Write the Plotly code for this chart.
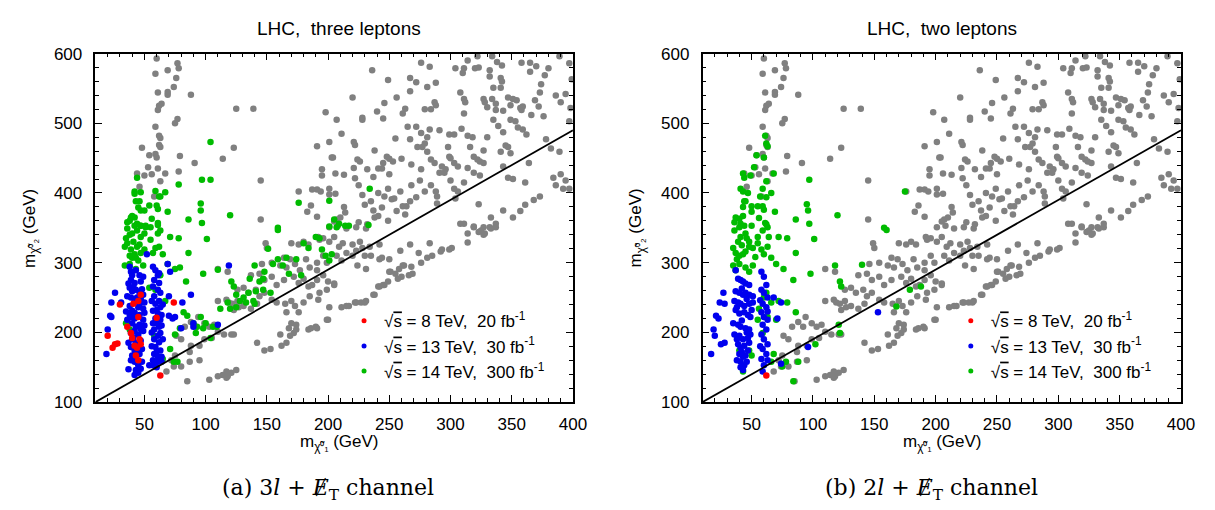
import plotly.graph_objects as go

# all scanned points (grey), shared by both panels: (m_chi1, m_chi2) in GeV
grey_points = [
    (60, 593), (59, 571), (69, 576), (77, 586), (78, 579), (76, 565), (74, 552), (61, 544), (69, 545),
    (69, 541), (64, 528), (62, 525), (61, 519), (88, 541), (77, 506), (75, 500), (59, 495), (62, 482),
    (63, 479), (62, 469), (63, 466), (48, 465), (54, 454), (59, 456), (60, 451), (79, 453), (91, 443),
    (53, 437), (44, 428), (50, 425), (56, 427), (61, 435), (67, 428), (63, 417), (78, 431), (46, 409),
    (58, 395), (125, 521), (139, 521), (114, 449), (123, 465), (145, 418), (145, 362),
    (236, 576), (220, 537), (198, 516), (207, 505), (211, 485), (228, 508), (228, 505), (191, 467),
    (201, 473), (221, 473), (222, 469), (238, 461), (195, 434), (195, 425), (203, 451), (204, 451),
    (206, 428), (213, 426), (224, 448), (226, 445), (221, 436), (222, 421), (232, 434), (237, 423),
    (191, 405), (194, 402), (187, 405), (176, 402), (201, 406), (201, 398), (206, 399), (186, 382),
    (183, 373), (191, 366), (213, 380), (214, 372), (210, 365), (207, 362), (205, 359), (228, 397),
    (230, 383), (235, 388), (237, 375), (238, 365), (225, 411), (241, 400), (225, 358), (232, 355),
    (246, 395), (252, 391), (256, 374), (261, 381), (267, 388), (249, 360), (241, 367), (244, 379),
    (276, 587), (283, 581), (267, 565), (272, 559), (281, 552), (288, 558), (249, 562), (256, 537),
    (246, 529), (240, 517), (245, 507), (267, 546), (263, 521), (261, 514), (279, 520), (284, 520),
    (287, 530), (288, 526), (265, 495), (272, 495), (255, 478), (267, 477), (276, 486), (281, 480),
    (283, 491), (291, 490), (299, 484), (303, 484), (309, 492), (248, 452), (250, 449), (253, 445),
    (260, 449), (245, 443), (241, 435), (244, 435), (250, 427), (249, 406), (254, 392), (259, 402),
    (263, 369), (264, 381), (268, 441), (268, 411), (272, 394), (275, 418), (276, 434), (273, 466),
    (277, 466), (279, 471), (281, 459), (284, 448), (287, 443), (291, 429), (293, 438), (295, 429),
    (296, 434), (298, 466), (299, 452), (300, 450), (303, 443), (306, 438), (279, 402), (284, 411),
    (288, 402), (289, 395), (289, 385), (300, 418), (303, 406), (311, 415), (306, 402), (304, 392),
    (314, 482), (318, 480), (316, 466), (319, 452), (322, 448), (324, 445), (327, 461), (330, 480),
    (327, 443), (324, 425), (319, 429), (314, 436), (320, 579), (323, 580), (311, 579), (310, 572),
    (304, 579), (314, 590), (322, 596), (334, 596), (338, 588), (342, 583), (358, 587), (365, 587),
    (370, 582), (365, 574), (380, 579), (377, 569), (389, 596), (397, 586), (399, 563), (308, 544),
    (311, 535), (312, 530), (311, 514), (332, 576), (332, 567), (341, 565), (342, 560), (335, 551),
    (341, 551), (327, 535), (328, 530), (334, 535), (330, 523), (337, 528), (337, 519), (343, 518),
    (335, 505), (347, 537), (351, 535), (354, 533), (357, 522), (359, 524), (349, 526), (358, 519),
    (369, 533), (372, 524), (366, 512), (376, 510), (373, 544), (374, 556), (386, 540), (390, 530),
    (394, 542), (398, 522), (339, 496), (343, 487), (349, 505), (353, 503), (355, 494), (359, 491),
    (362, 484), (378, 477), (345, 468), (347, 466), (341, 459), (349, 457), (382, 464), (389, 459),
    (364, 443), (347, 422), (351, 420), (361, 415), (384, 422), (390, 427), (394, 418), (386, 411),
    (392, 406), (397, 406), (343, 438), (397, 503),
    (368, 390), (373, 395), (361, 383), (357, 374), (351, 365), (343, 375), (333, 365), (337, 356),
    (327, 351), (319, 352), (311, 356), (308, 356), (323, 384),
    (314, 342), (323, 344), (327, 340), (319, 351), (332, 351), (314, 329), (299, 319), (292, 316),
    (285, 310), (281, 307), (276, 300), (268, 294), (261, 296), (258, 291), (266, 282), (257, 277),
    (250, 287), (245, 268), (241, 266), (237, 254), (231, 245), (227, 243), (222, 243), (217, 238),
    (211, 236), (201, 236), (199, 218), (190, 208), (186, 206),
    (201, 351), (208, 353), (215, 349), (223, 351), (231, 349), (149, 328), (150, 321), (170, 328),
    (176, 326), (180, 330), (184, 326), (192, 337), (193, 333), (196, 335), (201, 330), (205, 337),
    (209, 323), (212, 328), (220, 326), (226, 330), (228, 321), (234, 323), (242, 326), (146, 298),
    (154, 300), (164, 307), (169, 305), (161, 296), (166, 293), (173, 298), (177, 289), (182, 305),
    (185, 293), (191, 300), (196, 310), (199, 300), (207, 310), (211, 303), (215, 314), (220, 310),
    (223, 317), (230, 310), (235, 310), (231, 291), (224, 296), (137, 282), (144, 284), (148, 275),
    (154, 280), (158, 268), (164, 275), (172, 280), (176, 271), (180, 277), (184, 266), (191, 275),
    (196, 282), (200, 273), (205, 270), (110, 291), (118, 287), (126, 261), (131, 264), (135, 257),
    (141, 261), (144, 252), (148, 257), (154, 247), (158, 243), (165, 241), (170, 245), (173, 238),
    (166, 229), (180, 243), (185, 252), (192, 247), (110, 245), (117, 247), (119, 243), (122, 241),
    (126, 245), (131, 238), (137, 234), (142, 241), (123, 232), (127, 236), (187, 268), (193, 257),
    (199, 261), (191, 289),
    (80, 190), (76, 195), (83, 208), (88, 215), (94, 222), (92, 208), (99, 213), (103, 208), (107, 211),
    (110, 201), (115, 197), (121, 197), (123, 197), (105, 192), (99, 190), (95, 181), (88, 181),
    (87, 172), (75, 167), (72, 160), (68, 144), (74, 151), (80, 151), (87, 158), (95, 160), (103, 132),
    (110, 137), (114, 139), (117, 144), (118, 137), (121, 142), (125, 146), (117, 135), (85, 130),
    (142, 185), (148, 174), (153, 176), (162, 181), (166, 185), (169, 195), (172, 199), (174, 204),
    (168, 206), (170, 213), (174, 211), (176, 229), (161, 197), (184, 204), (191, 206), (200, 218),
    (215, 238), (223, 243), (230, 243), (238, 254), (242, 266), (246, 268), (249, 273), (251, 287),
    (255, 284), (262, 296), (260, 280), (269, 284), (205, 268),
    (242, 305), (244, 307), (250, 305), (259, 317), (267, 326), (274, 314), (283, 328), (293, 319),
    (301, 321), (325, 346), (328, 342), (333, 349), (337, 351),
]

# panel (a): three leptons
green_3l = [
    (104, 473), (44, 422), (42, 402), (42, 399), (47, 401), (43, 388), (46, 388), (45, 379), (47, 375),
    (54, 382), (50, 375), (60, 382), (61, 377), (59, 403), (62, 395), (63, 395), (67, 401), (78, 412),
    (97, 419), (104, 419), (96, 385), (96, 375), (86, 362), (97, 357), (69, 373), (56, 363), (61, 357),
    (61, 354), (39, 365), (40, 367), (42, 365), (36, 358), (38, 360), (44, 356), (47, 353), (51, 353),
    (120, 368), (176, 386), (201, 389), (205, 362), (209, 356), (217, 353), (234, 406), (233, 354),
    (159, 350), (201, 352),
    (34, 323), (36, 328), (39, 319), (42, 312), (44, 323), (47, 314), (38, 310), (40, 307), (43, 307),
    (35, 335), (40, 342), (44, 346), (47, 337), (50, 342), (36, 349), (42, 353), (34, 296), (38, 298),
    (43, 291), (49, 296), (50, 319), (55, 333), (57, 314), (59, 321), (61, 342), (63, 346), (62, 323),
    (65, 312), (55, 351), (51, 351), (47, 353), (41, 330), (46, 326), (38, 340), (45, 303),
    (71, 337), (78, 335), (101, 334), (86, 314), (69, 298), (75, 291), (79, 293), (84, 273), (98, 284),
    (110, 290), (121, 273), (123, 266), (125, 254), (131, 250), (135, 257), (139, 245), (141, 259),
    (140, 296), (148, 287), (155, 298), (159, 305), (163, 296), (166, 307), (168, 284), (174, 305),
    (178, 282), (180, 328), (184, 321), (190, 337), (193, 335), (195, 319), (198, 310), (201, 303),
    (203, 312), (207, 351), (214, 353), (159, 347), (151, 320), (147, 277), (144, 273), (147, 261),
    (153, 257), (136, 277), (128, 245), (118, 243), (112, 234), (120, 234), (125, 236), (133, 243),
    (140, 241), (82, 229), (85, 224), (79, 206), (75, 197), (71, 176), (77, 158), (74, 158), (92, 199),
    (90, 213), (93, 208), (100, 213), (106, 208), (109, 208), (98, 206), (96, 222), (104, 192),
    (65, 162), (35, 213), (38, 204), (58, 195), (63, 282), (67, 245), (59, 261), (54, 264),
]
blue_3l = [
    (38, 294), (39, 287), (40, 282), (43, 289), (46, 282), (49, 280), (39, 275), (42, 271), (47, 273),
    (38, 264), (40, 259), (43, 261), (46, 257), (49, 254), (36, 252), (39, 250), (42, 245), (47, 248),
    (50, 243), (38, 238), (40, 231), (45, 236), (49, 234), (39, 222), (42, 220), (46, 225), (49, 218),
    (40, 213), (43, 208), (46, 211), (39, 199), (42, 202), (45, 197), (49, 202), (40, 190), (43, 185),
    (47, 188), (39, 179), (42, 174), (46, 176), (40, 167), (43, 162), (46, 169), (42, 158), (45, 153),
    (43, 146), (42, 139), (45, 142),
    (37, 270), (41, 265), (44, 250), (48, 262), (35, 230), (38, 225), (42, 228), (46, 240), (50, 228),
    (36, 218), (47, 205), (50, 210), (41, 193), (37, 185), (48, 176), (39, 160), (44, 171), (48, 158),
    (37, 147), (47, 148),
    (52, 312), (57, 294), (59, 289), (62, 285), (61, 282), (58, 275), (62, 271), (57, 266), (61, 261),
    (63, 257), (58, 252), (62, 245), (59, 241), (63, 236), (57, 231), (61, 227), (59, 220), (63, 218),
    (57, 213), (62, 208), (58, 204), (63, 199), (61, 195), (58, 190), (62, 186), (59, 179), (63, 174),
    (58, 169), (61, 165), (57, 153), (61, 158),
    (56, 245), (60, 232), (64, 225), (56, 200), (60, 213), (64, 210), (56, 180), (60, 172), (64, 165),
    (60, 150), (64, 158), (57, 160), (65, 190), (65, 240),
    (69, 298), (71, 287), (70, 252), (70, 224), (73, 220), (75, 222), (80, 206), (88, 254), (81, 243),
    (90, 213), (90, 208), (110, 211), (119, 296), (26, 257), (23, 243), (22, 224), (23, 222), (20, 204),
    (19, 169), (31, 243), (54, 153),
]
red_3l = [
    (47, 254), (45, 245), (41, 241), (30, 240), (74, 243), (45, 222), (60, 221), (36, 208), (39, 199),
    (40, 192), (46, 190), (47, 183), (42, 181), (44, 178), (20, 195), (26, 183), (28, 184), (24, 178),
    (43, 167), (45, 160), (63, 138),
]

# panel (b): two leptons
green_2l = [
    (61, 482), (62, 471), (63, 467), (54, 454), (60, 451), (52, 437), (43, 428), (44, 422), (68, 428),
    (49, 425), (62, 417), (41, 406), (43, 402), (47, 400), (59, 406), (57, 395), (62, 394), (66, 400),
    (44, 388), (45, 388), (43, 380), (50, 381), (55, 381), (59, 381), (60, 376), (50, 373), (69, 373),
    (56, 364), (61, 357), (62, 355), (37, 365), (40, 363), (43, 367), (36, 358), (41, 356), (50, 353),
    (97, 419), (95, 384), (96, 375), (86, 362), (97, 356), (120, 368), (175, 402), (158, 350),
    (35, 321), (37, 314), (40, 310), (43, 312), (45, 316), (48, 323), (39, 330), (41, 337), (45, 342),
    (48, 330), (51, 321), (36, 346), (40, 351), (44, 353), (35, 296), (40, 298), (45, 293), (51, 296),
    (55, 328), (58, 319), (60, 312), (63, 323), (64, 337), (59, 346), (55, 337), (63, 351), (66, 307),
    (37, 289), (48, 287), (42, 325), (46, 335), (38, 305), (53, 308),
    (72, 337), (79, 335), (101, 334), (86, 314), (70, 298), (76, 291), (84, 275), (98, 284), (118, 296),
    (140, 297), (160, 347), (122, 273), (123, 266), (86, 229), (79, 243), (72, 245), (70, 218),
    (88, 158), (78, 158), (75, 151), (84, 130), (102, 183), (121, 211), (122, 199), (168, 237),
    (179, 261), (188, 266), (62, 257), (60, 250), (66, 243), (56, 234), (63, 222), (55, 218), (59, 199),
    (50, 167), (43, 144), (66, 158), (68, 169), (40, 174), (48, 174),
]
blue_2l = [
    (37, 289), (39, 277), (41, 275), (43, 273), (45, 270), (48, 268), (37, 259), (40, 257), (43, 254),
    (45, 257), (48, 254), (51, 252), (36, 245), (39, 243), (41, 241), (44, 238), (48, 241), (51, 243),
    (37, 232), (40, 227), (44, 229), (47, 225), (49, 222), (35, 213), (39, 211), (41, 208), (45, 206),
    (48, 204), (36, 197), (40, 195), (43, 190), (47, 192), (49, 197), (39, 183), (41, 178), (44, 181),
    (47, 174), (40, 169), (43, 165), (45, 167), (41, 158), (44, 153), (43, 146),
    (42, 263), (46, 248), (38, 236), (50, 232), (42, 217), (46, 200), (38, 190), (48, 185), (42, 172),
    (38, 160), (46, 158), (41, 150),
    (58, 287), (60, 280), (62, 268), (58, 261), (60, 257), (63, 250), (59, 241), (62, 236), (58, 229),
    (60, 222), (63, 218), (59, 211), (62, 204), (58, 197), (60, 190), (63, 183), (59, 176), (62, 169),
    (58, 162), (60, 153), (63, 160), (57, 180), (63, 230), (57, 246),
    (27, 257), (24, 243), (28, 241), (21, 224), (23, 220), (19, 204), (20, 195), (17, 169), (25, 183),
    (28, 185), (68, 250), (74, 243), (71, 220), (74, 155), (96, 179), (153, 229), (59, 144),
]
red_2l = [(62, 138)]

# kinematic boundary line
boundary_m1 = [10, 400]
boundary_m2 = [100, 490]

series_names = [
    "√<span style='text-decoration:overline'>s</span> = 8 TeV,  20 fb<sup>-1</sup>",
    "√<span style='text-decoration:overline'>s</span> = 13 TeV,  30 fb<sup>-1</sup>",
    "√<span style='text-decoration:overline'>s</span> = 14 TeV,  300 fb<sup>-1</sup>",
]
series_colors = ["#ff0000", "#0000ee", "#00bb00"]
GREY = "#808080"
FONT = "Arial"

fig = go.Figure()


def add_panel(xa, ya, legend, green, blue, red):
    for pts, col in [(grey_points, GREY), (green, series_colors[2]),
                     (blue, series_colors[1]), (red, series_colors[0])]:
        fig.add_trace(go.Scatter(
            x=[p[0] for p in pts], y=[p[1] for p in pts], mode="markers",
            marker=dict(color=col, size=6.5), xaxis=xa, yaxis=ya,
            showlegend=False, hoverinfo="x+y"))
    fig.add_trace(go.Scatter(
        x=boundary_m1, y=boundary_m2, mode="lines",
        line=dict(color="black", width=1.8), xaxis=xa, yaxis=ya,
        showlegend=False, hoverinfo="skip"))
    # legend-only entries (smaller symbols as in the original)
    for name, col in zip(series_names, series_colors):
        fig.add_trace(go.Scatter(
            x=[None], y=[None], mode="markers", name=name,
            marker=dict(color=col, size=5), xaxis=xa, yaxis=ya,
            legend=legend, legendgroup=legend + name))


add_panel("x", "y", "legend", green_3l, blue_3l, red_3l)
add_panel("x2", "y2", "legend2", green_2l, blue_2l, red_2l)

axis_common = dict(
    showgrid=False, zeroline=False, showline=True, linecolor="black", linewidth=1.5,
    mirror="ticks", ticks="inside", ticklen=7, tickwidth=1, tickcolor="black",
    tickfont=dict(family=FONT, size=17, color="black"),
)
xaxis_cfg = dict(axis_common, range=[10, 400], tick0=0, dtick=50, ticklabelstandoff=6,
                 minor=dict(ticks="inside", dtick=10, tick0=0, ticklen=4, tickcolor="black"))
yaxis_cfg = dict(axis_common, range=[100, 600], tick0=0, dtick=100, ticklabelstandoff=8,
                 minor=dict(ticks="inside", dtick=20, tick0=0, ticklen=4, tickcolor="black"))

legend_common = dict(xanchor="left", yanchor="top", bgcolor="rgba(0,0,0,0)",
                     font=dict(family=FONT, size=17, color="black"), tracegroupgap=0,
                     traceorder="grouped")
fig.update_layout(
    width=1215, height=510,
    margin=dict(l=0, r=0, t=0, b=0),
    paper_bgcolor="white", plot_bgcolor="white",
    xaxis=dict(xaxis_cfg, domain=[0.0728, 0.4704], anchor="y"),
    yaxis=dict(yaxis_cfg, domain=[0.2157, 0.9255], anchor="x"),
    xaxis2=dict(xaxis_cfg, domain=[0.5783, 0.9767], anchor="y2"),
    yaxis2=dict(yaxis_cfg, domain=[0.2157, 0.9255], anchor="x2"),
    legend=dict(legend_common, x=0.2798, y=0.417),
    legend2=dict(legend_common, x=0.785, y=0.417),
    showlegend=True,
)

ann = []
for cx, title, cap in [(0.2757, "LHC,\u00a0 three leptons", "(a) 3<i>l</i> + <i>Ɇ</i><sub>T</sub> channel"),
                       (0.7778, "LHC,\u00a0 two leptons", "(b) 2<i>l</i> + <i>Ɇ</i><sub>T</sub> channel")]:
    ann.append(dict(x=cx, y=0.976, xref="paper", yref="paper", text=title, showarrow=False,
                    xanchor="center", yanchor="middle",
                    font=dict(family=FONT, size=19, color="black")))
    ann.append(dict(x=cx - 0.009, y=0.038, xref="paper", yref="paper", text=cap, showarrow=False,
                    xanchor="center", yanchor="middle",
                    font=dict(family="DejaVu Serif, serif", size=22, color="black")))
    ann.append(dict(x=cx, y=0.133, xref="paper", yref="paper",
                    text="m<sub>χ\u0303⁰₁</sub> (GeV)", showarrow=False,
                    xanchor="center", yanchor="middle",
                    font=dict(family=FONT, size=17, color="black")))
for cx in (0.019, 0.524):
    ann.append(dict(x=cx, y=0.57, xref="paper", yref="paper", textangle=-90,
                    xanchor="center", yanchor="middle",
                    text="m<sub>χ\u0303⁰₂</sub> (GeV)", showarrow=False,
                    font=dict(family=FONT, size=17, color="black")))
fig.update_layout(annotations=ann)

fig.write_html("out.html")
